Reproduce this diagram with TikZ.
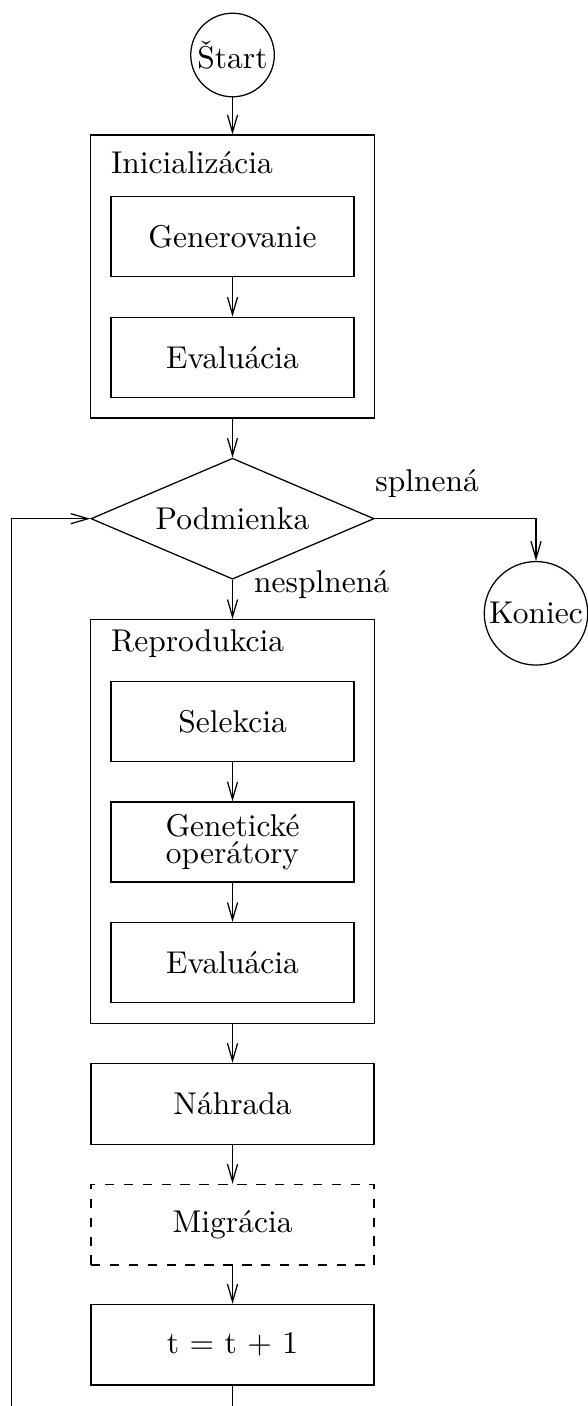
\documentclass[tikz,border=0pt]{standalone}
\usepackage{tikz}
\usetikzlibrary{positioning}
\usetikzlibrary{shapes.geometric}
\usetikzlibrary{fit}
\usetikzlibrary{arrows.meta}

\begin{document}
\begin{tikzpicture}[
    node distance=0.44cm,
    box/.style={draw, rectangle, align=center,
                minimum width=2.71cm, minimum height=0.893cm},
    stepbox/.style={box, minimum width=3.16cm, minimum height=0.9cm},
    group/.style={draw, rectangle, inner sep=0.223cm},
    term/.style={draw, circle, inner sep=1pt},
    decision/.style={draw, diamond, aspect=2.34, inner sep=0pt,
                minimum width=3.16cm, minimum height=1.35cm},
    lbl/.style={inner sep=0pt},
    >={Straight Barb[length=5.5pt,width=3.2pt]}
  ]
    % Rámec obrázka
    \useasboundingbox (-2.595,0.614) rectangle (3.967,-15.077);
    \clip (-2.595,0.614) rectangle (3.967,-15.077);

    \node[term] (start) at (0,0) {Štart};

    % Inicializácia
    \node[box, below=1.10cm of start] (gen) {Generovanie};
    \node[box, below=of gen] (eval1) {Evaluácia};
    \coordinate[above=0.457cm of gen] (inittop);
    \node[group, fit=(inittop)(gen)(eval1)] (init) {};
    \node[lbl, anchor=south west] (initlabel) at ([yshift=0.245cm]gen.north west) {Inicializácia};

    % Podmienka a koniec
    \node[decision, below=0.665cm of eval1] (cond) {Podmienka};
    \node[term] (koniec) at ([xshift=3.387cm, yshift=-1.056cm]cond) {Koniec};

    % Reprodukcia
    \node[box, below=1.125cm of cond] (sel) {Selekcia};
    \node[box, below=of sel] (genop) {Genetické\\[-3.4pt]operátory};
    \node[box, below=of genop] (eval2) {Evaluácia};
    \coordinate[above=0.457cm of sel] (reprotop);
    \node[group, fit=(reprotop)(sel)(eval2)] (repro) {};
    \node[lbl, anchor=south west] (reprolabel) at ([yshift=0.245cm]sel.north west) {Reprodukcia};

    % Náhrada, migrácia, t
    \node[stepbox, below=0.665cm of eval2] (nahrada) {Náhrada};
    \node[stepbox, dashed, below=0.435cm of nahrada] (migr) {Migrácia};
    \node[stepbox, below=0.425cm of migr] (tinc) {t = t + 1};

    % Spätná slučka
    \coordinate[left=0.88cm of cond.west] (loopleft);
    \coordinate[below=0.5cm of tinc] (loopdown);

    \draw[->] (start) -- (init);
    \draw[->] (gen) -- (eval1);
    \draw[->] (init) -- (cond);
    \draw[->] (cond.east) -| node[lbl, at start, anchor=base west, yshift=0.3cm] (splnena) {splnená} (koniec);
    \draw[->] (cond) -- node[lbl, at start, anchor=base west, xshift=0.234cm, yshift=-0.145cm] (nesplnena) {nesplnená} (repro);
    \draw[->] (sel) -- (genop);
    \draw[->] (genop) -- (eval2);
    \draw[->] (repro) -- (nahrada);
    \draw[->] (nahrada) -- (migr);
    \draw[->] (migr) -- (tinc);
    \draw[->] (tinc) -- (loopdown) -| (loopleft) -- (cond.west);
\end{tikzpicture}
\end{document}
